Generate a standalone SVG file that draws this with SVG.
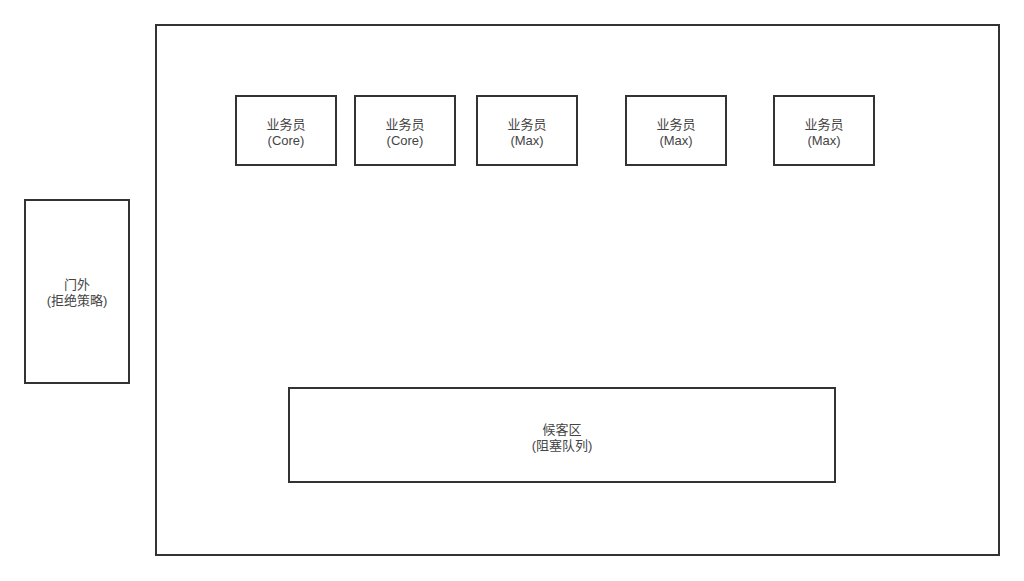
<svg xmlns="http://www.w3.org/2000/svg" width="1024" height="581" viewBox="0 0 1024 581">
<style>
rect.b{fill:#fff;stroke:#333;stroke-width:2}
text{font-family:"Liberation Sans","Noto Sans CJK SC",sans-serif;font-size:13px;fill:#444;text-anchor:middle}
</style>
<rect width="1024" height="581" fill="#fff"/>
<g id="pool"><rect class="b" x="156" y="25" width="843" height="530"/></g>
<g id="w1"><rect class="b" x="236" y="96" width="100" height="69"/><text x="286" y="129">业务员</text><text x="286" y="145">(Core)</text></g>
<g id="w2"><rect class="b" x="355" y="96" width="100" height="69"/><text x="405" y="129">业务员</text><text x="405" y="145">(Core)</text></g>
<g id="w3"><rect class="b" x="477" y="96" width="100" height="69"/><text x="527" y="129">业务员</text><text x="527" y="145">(Max)</text></g>
<g id="w4"><rect class="b" x="626" y="96" width="100" height="69"/><text x="676" y="129">业务员</text><text x="676" y="145">(Max)</text></g>
<g id="w5"><rect class="b" x="774" y="96" width="100" height="69"/><text x="824" y="129">业务员</text><text x="824" y="145">(Max)</text></g>
<g id="reject"><rect class="b" x="25" y="200" width="104" height="183"/><text x="77" y="289">门外</text><text x="77" y="305">(拒绝策略)</text></g>
<g id="queue"><rect class="b" x="289" y="388" width="546" height="94"/><text x="562" y="434">候客区</text><text x="562" y="450">(阻塞队列)</text></g>
<g id="connectors"></g>
</svg>
